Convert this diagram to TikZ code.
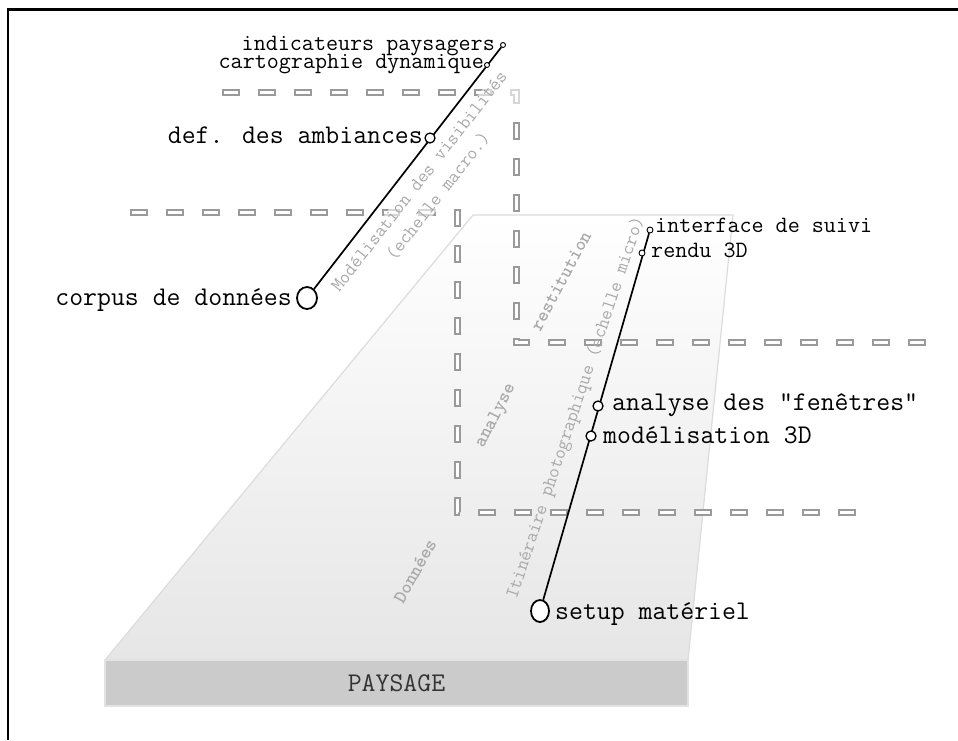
\documentclass[tikz,border=0pt]{standalone}
\usepackage{fontspec}
\usetikzlibrary{shapes.geometric}
\definecolor{dashgray}{HTML}{9A9A9A}
\definecolor{txtgray}{HTML}{A9A9A9}
\definecolor{planegray}{HTML}{E6E6E6}
\definecolor{planeedge}{HTML}{DCDCDC}
\definecolor{basegray}{HTML}{CBCBCB}
\definecolor{baseedge}{HTML}{E2E2E2}
\definecolor{basetext}{HTML}{333333}
\begin{document}
\begin{tikzpicture}[x=1pt,y=-1pt,
  dashouter/.style={draw=dashgray, line width=7pt, dash pattern=on 18pt off 18pt, line join=miter},
  dashinner/.style={draw=white, line width=3pt, dash pattern=on 14pt off 22pt, dash phase=34pt, line join=miter},
  conn/.style={draw=black, line width=1.7pt},
  bigdot/.style={ellipse, draw=black, fill=white, line width=1.8pt, inner sep=0pt},
  meddot/.style={circle, draw=black, fill=white, line width=1.3pt, inner sep=0pt, minimum size=10pt},
  tinydot/.style={circle, draw=black, fill=white, line width=0.9pt, inner sep=0pt, minimum size=5pt},
  biglbl/.style={inner sep=0pt, font=\ttfamily\fontsize{27}{30}\selectfont},
  smalllbl/.style={inner sep=0pt, font=\ttfamily\fontsize{23.4}{26}\selectfont},
  graytxt/.style={text=txtgray, inner sep=0.5pt, font=\ttfamily\fontsize{19}{24}\selectfont},
  graybold/.style={text=txtgray, inner sep=1pt, font=\ttfamily\bfseries\fontsize{19}{23}\selectfont},
  basebox/.style={rectangle, fill=basegray, draw=baseedge, line width=2pt, minimum width=583pt, minimum height=46pt, text=basetext, font=\ttfamily\fontsize{27}{30}\selectfont}
]
\useasboundingbox (0,0) rectangle (958,740);
% frame (top and left only)
\draw[line width=2.5pt] (8,740) -- (8,9.5) -- (958,9.5);
% landscape plane
\coordinate (p1) at (473,215);
\coordinate (p2) at (733,215);
\coordinate (p3) at (688,660);
\coordinate (p4) at (105,660);
\shade[top color=white, bottom color=planegray] (p1) -- (p2) -- (p3) -- (p4) -- cycle;
\draw[draw=planeedge, line width=1.2pt, line join=round] (p1) -- (p2) -- (p3) -- (p4) -- cycle;
\node[basebox] (paysage) at (396.5,683) {PAYSAGE};
% staircase dashed separators
\coordinate (a0) at (222,92);
\coordinate (a1) at (516,92);
\coordinate (a2) at (516,342);
\coordinate (a3) at (926,342);
\coordinate (b0) at (130,212);
\coordinate (b1) at (457,212);
\coordinate (b2) at (457,512);
\coordinate (b3) at (857,512);
\draw[dashouter] (a0) -- (a1) -- (a2) -- (a3);
\draw[dashinner] (a0) -- (a1) -- (a2) -- (a3);
\draw[dashouter] (b0) -- (b1) -- (b2) -- (b3);
\draw[dashinner] (b0) -- (b1) -- (b2) -- (b3);
% gray rotated texts
\node[graytxt, rotate=52, align=center, fill=white, fill opacity=0.6, text opacity=1] (modvis) at (429,189) {Modélisation des visibilités\\(echelle macro.)};
\node[graytxt, rotate=71.5] (itin) at (576,408) {Itinéraire photographique (echelle micro)};
\node[graybold, rotate=62] (restit) at (561,281) {restitution};
\node[graybold, rotate=63] (analy) at (496,416) {analyse};
\node[graybold, rotate=61] (donnees) at (415,571) {Données};
% circles
\node[bigdot, minimum width=20pt, minimum height=22pt] (corpus) at (307,298) {};
\node[tinydot] (indic) at (503,45) {};
\node[bigdot, minimum width=18pt, minimum height=22pt] (setup) at (540,611) {};
\node[tinydot, minimum size=6pt] (interf) at (650,230) {};
% connectors
\draw[conn] (corpus) -- (indic);
\draw[conn] (setup) -- (interf);
% intermediate stations
\node[tinydot] (carto) at (487,65) {};
\node[meddot] (ambi) at (430,138) {};
\node[tinydot, minimum size=6pt] (rendu) at (642,253) {};
\node[meddot] (fen) at (598,406) {};
\node[meddot] (mod3d) at (591,436) {};
% labels
\node[biglbl, anchor=base east] (lcorpus) at (292,305) {corpus de données};
\node[biglbl, anchor=base east] (lambi) at (423,143) {def. des ambiances};
\node[smalllbl, anchor=base east] (lindic) at (495,50) {indicateurs paysagers};
\node[smalllbl, anchor=base east] (lcarto) at (484,68) {cartographie dynamique};
\node[smalllbl, anchor=base west] (linterf) at (655,232) {interface de suivi};
\node[smalllbl, anchor=base west] (lrendu) at (651,257) {rendu 3D};
\node[biglbl, anchor=base west] (lfen) at (612,410) {analyse des "fenêtres"};
\node[biglbl, anchor=base west] (lmod) at (603,443) {modélisation 3D};
\node[biglbl, anchor=base west] (lsetup) at (555,619) {setup matériel};
\end{tikzpicture}
\end{document}
